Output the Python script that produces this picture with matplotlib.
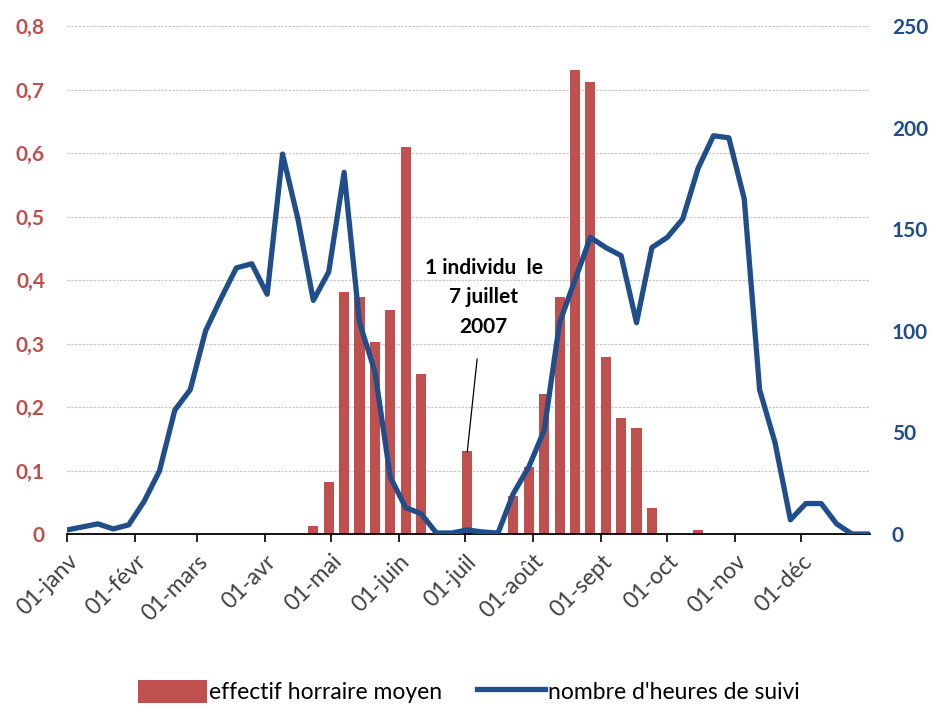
import numpy as np
import matplotlib
matplotlib.use('Agg')
import matplotlib.pyplot as plt
from matplotlib.ticker import FixedLocator

plt.rcParams['font.family'] = ['Lato', 'DejaVu Sans']

# weekly points, day of year 2007 (0 = 01-janv)
week_days = np.arange(0, 365, 7)

# nombre d'heures de suivi (right axis), one value per week
heures_suivi = [2, 3.5, 5, 2.5, 4.5, 16, 31, 61, 71, 100,
                116, 131, 133, 118, 187, 155, 115, 129, 178, 104,
                80, 28, 13, 10, 0.5, 0.5, 2, 1, 0.5, 20,
                33, 51, 104, 125, 146, 141, 137, 104, 141, 146,
                155, 180, 196, 195, 165, 71, 45, 7, 15, 15,
                5, 0, 0]

# effectif horraire moyen (left axis), weeks with a bar
bar_weeks = [16, 17, 18, 19, 20, 21, 22, 23, 26, 29, 30, 31, 32, 33, 34, 35, 36, 37, 38, 41]
effectif = [0.013, 0.082, 0.381, 0.374, 0.302, 0.353, 0.609, 0.252, 0.13,
            0.06, 0.105, 0.22, 0.373, 0.731, 0.712, 0.279, 0.183, 0.167, 0.041, 0.006]

month_days = [0, 31, 59, 90, 120, 151, 181, 212, 243, 273, 304, 334]
month_labels = ['01-janv', '01-févr', '01-mars', '01-avr', '01-mai', '01-juin',
                '01-juil', '01-août', '01-sept', '01-oct', '01-nov', '01-déc']

left_ticks = [0, 0.1, 0.2, 0.3, 0.4, 0.5, 0.6, 0.7, 0.8]
right_ticks = [0, 50, 100, 150, 200, 250]

red = '#c0504d'
blue = '#1f4e8a'

fig = plt.figure(figsize=(9.32, 7.06), dpi=100)
ax = fig.add_axes([0.072, 0.2436, 0.861, 0.7195])

bar_x = [week_days[k] for k in bar_weeks]
ax.bar(bar_x, effectif, width=4.6, color=red, zorder=3, label='effectif horraire moyen')
ax.set_xlim(0, 365)
ax.set_ylim(0, 0.8)
ax.yaxis.set_major_locator(FixedLocator(left_ticks))
ax.set_yticklabels([('%g' % t).replace('.', ',') for t in left_ticks], fontweight='bold')
ax.tick_params(axis='y', length=0, pad=16, labelsize=15, labelcolor=red)
ax.grid(axis='y', color='#c8c8c8', linestyle=(0, (2, 1)), linewidth=0.9, zorder=0)
ax.set_xticks(month_days)
ax.set_xticklabels(month_labels, rotation=45, ha='right', rotation_mode='anchor',
                   fontsize=16.5, color='#404040')
ax.tick_params(axis='x', length=6, width=1.2, direction='out', pad=6)
for s in ['top', 'left', 'right']:
    ax.spines[s].set_visible(False)
ax.spines['bottom'].set_linewidth(1.3)
ax.spines['bottom'].set_zorder(5)

ax2 = ax.twinx()
ax2.plot(week_days, heures_suivi, color=blue, linewidth=3.8, solid_joinstyle='round',
         label="nombre d'heures de suivi", zorder=4)
ax2.set_ylim(0, 250)
ax2.set_yticks(right_ticks)
ax2.set_yticklabels([str(t) for t in right_ticks], fontweight='bold')
ax2.tick_params(axis='y', length=0, pad=16, labelsize=15, labelcolor=blue)
for s in ['top', 'left', 'right', 'bottom']:
    ax2.spines[s].set_visible(False)

# annotation for the July bar
ax.annotate('1 individu  le\n7 juillet\n2007', xy=(week_days[26], 0.129),
            xytext=(189.5, 0.373), ha='center', va='center', fontsize=15,
            fontweight='bold', linespacing=1.6,
            arrowprops=dict(arrowstyle='-', color='black', lw=0.9, shrinkA=14, shrinkB=0))

h1, l1 = ax.get_legend_handles_labels()
h2, l2 = ax2.get_legend_handles_labels()
fig.legend(h1 + h2, l1 + l2, loc='lower center', bbox_to_anchor=(0.503, -0.025), ncol=2,
           frameon=False, fontsize=16.5, handlelength=3.0, handleheight=1.15,
           handletextpad=0.1, columnspacing=1.5)

fig.savefig('out.png', dpi=100)
